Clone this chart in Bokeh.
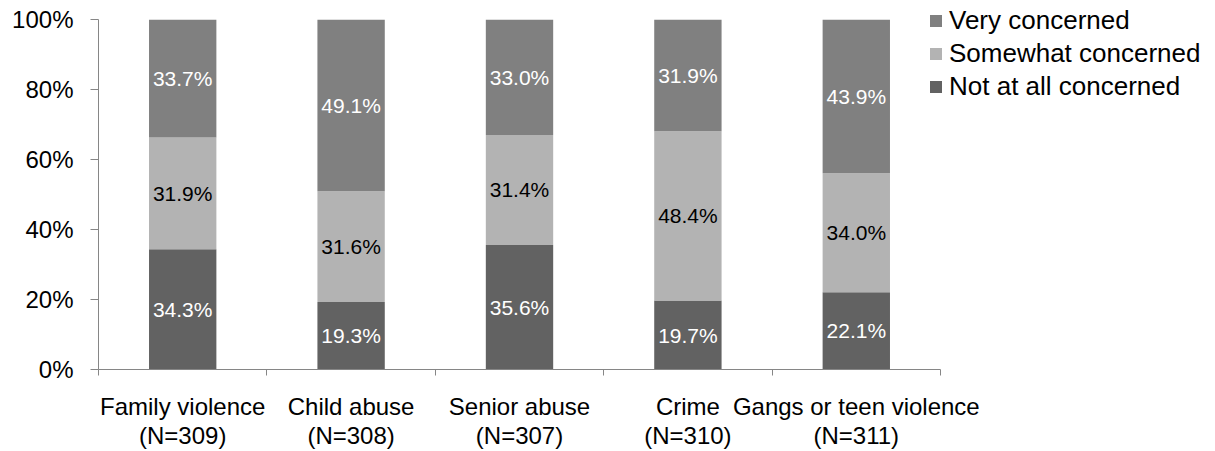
from bokeh.plotting import figure
from bokeh.models import (ColumnDataSource, FixedTicker, NumeralTickFormatter,
                          Legend, LegendItem, Range1d)
from bokeh.core.properties import value
from bokeh.embed import file_html
from bokeh.resources import INLINE

# ---- data ----
categories = ["Family violence", "Child abuse", "Senior abuse", "Crime", "Gangs or teen violence"]
n_values = [309, 308, 307, 310, 311]
not_at_all = [34.3, 19.3, 35.6, 19.7, 22.1]
somewhat = [31.9, 31.6, 31.4, 48.4, 34.0]
very = [33.7, 49.1, 33.0, 31.9, 43.9]
series_names = ["Not at all concerned", "Somewhat concerned", "Very concerned"]
y_ticks = [0, 0.2, 0.4, 0.6, 0.8, 1.0]

colors = {"Not at all concerned": "#626262",
          "Somewhat concerned": "#b3b3b3",
          "Very concerned": "#808080"}
label_colors = {"Not at all concerned": "white",
                "Somewhat concerned": "black",
                "Very concerned": "white"}

FONT = "Liberation Sans"
AXIS_COL = "#868686"

n = len(categories)
xs = [i + 0.5 for i in range(n)]
series = [not_at_all, somewhat, very]
totals = [sum(v) for v in zip(*series)]

p = figure(frame_width=842, frame_height=350, output_backend="svg",
           toolbar_location=None,
           x_range=Range1d(0, n), y_range=Range1d(0, 1),
           min_border_left=98, min_border_right=275, min_border_top=19,
           min_border_bottom=80)
p.outline_line_color = None
p.xgrid.grid_line_color = None
p.ygrid.grid_line_color = None

renderers = {}
bottoms = [0.0] * n
for name, vals in zip(series_names, series):
    frac = [v / t for v, t in zip(vals, totals)]
    tops = [b + f for b, f in zip(bottoms, frac)]
    src = ColumnDataSource(dict(x=xs, bottom=bottoms, top=tops,
                                mid=[(b + t) / 2 for b, t in zip(bottoms, tops)],
                                label=["%.1f%%" % v for v in vals]))
    r = p.vbar(x="x", bottom="bottom", top="top", width=0.4, source=src,
               fill_color=colors[name], line_color=None)
    renderers[name] = r
    p.text(x="x", y="mid", text="label", source=src, text_align="center",
           text_baseline="middle", text_font_size="21px", text_font=value(FONT),
           text_color=label_colors[name])
    bottoms = tops

# y axis
p.yaxis.ticker = FixedTicker(ticks=y_ticks)
p.yaxis.formatter = NumeralTickFormatter(format="0%")
p.yaxis.axis_line_color = AXIS_COL
p.yaxis.major_tick_line_color = AXIS_COL
p.yaxis.major_tick_out = 8
p.yaxis.major_tick_in = 0
p.yaxis.minor_tick_line_color = None
p.yaxis.major_label_text_font = FONT
p.yaxis.major_label_text_font_size = "24px"
p.yaxis.major_label_text_color = "black"
p.yaxis.major_label_standoff = 17

# x axis: labels at centers, tick marks at category boundaries
p.xaxis.ticker = FixedTicker(ticks=xs, minor_ticks=list(range(n + 1)))
p.xaxis.major_label_overrides = {x: "%s\n(N=%d)" % (c, k)
                                 for x, c, k in zip(xs, categories, n_values)}
p.xaxis.axis_line_color = AXIS_COL
p.xaxis.major_tick_line_color = None
p.xaxis.minor_tick_line_color = AXIS_COL
p.xaxis.minor_tick_out = 6
p.xaxis.minor_tick_in = 0
p.xaxis.major_label_text_font = FONT
p.xaxis.major_label_text_font_size = "24px"
p.xaxis.major_label_text_color = "black"
p.xaxis.major_label_standoff = 17
p.xaxis.major_label_text_line_height = 1.1

legend = Legend(items=[LegendItem(label=nm, renderers=[renderers[nm]])
                       for nm in reversed(series_names)],
                location=(-12, 267), orientation="vertical",
                glyph_width=15, glyph_height=15, label_height=30, spacing=2,
                label_standoff=6, padding=0, margin=0,
                label_text_font=FONT, label_text_font_size="26px",
                label_text_color="black", border_line_color=None,
                background_fill_alpha=0)
p.add_layout(legend, "right")

open("out.html", "w").write(file_html(p, INLINE))
